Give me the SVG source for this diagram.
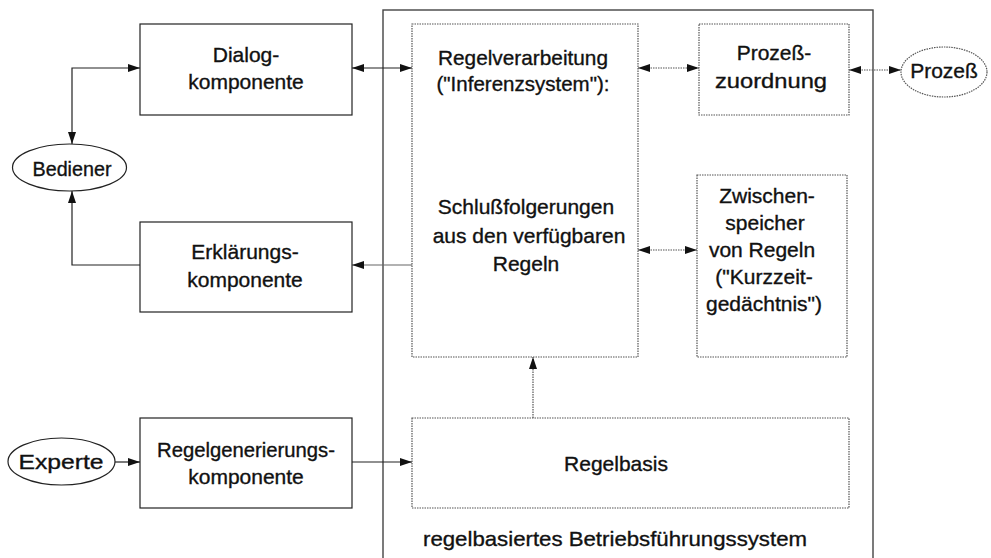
<svg xmlns="http://www.w3.org/2000/svg" width="991" height="558" viewBox="0 0 991 558">
<style>
text{font-family:"Liberation Sans",Arial,sans-serif;font-size:21px;fill:#111;stroke:#111;stroke-width:0.35;text-anchor:middle}
.solid{fill:#fff;stroke:#222;stroke-width:1.2}
.dot{fill:#fff;stroke:#555;stroke-width:1.2;stroke-dasharray:1.5 1}
.outer{fill:none;stroke:#444;stroke-width:1.4}
.c{fill:none;stroke:#222;stroke-width:1.2}
.cg{fill:none;stroke:#666;stroke-width:1.2}
.cd{fill:none;stroke:#555;stroke-width:1.2;stroke-dasharray:1.5 1}
</style>
<defs>
<marker id="ah" viewBox="0 0 12 8" refX="12" refY="4" markerWidth="12" markerHeight="8" markerUnits="userSpaceOnUse" orient="auto-start-reverse">
<path d="M0,0 L12,4 L0,8 Z" fill="#111"/>
</marker>
</defs>
<rect class="outer" x="383" y="10" width="490" height="570"/>
<g id="connectors">
<path class="c" d="M140,68 H72 V144" marker-start="url(#ah)" marker-end="url(#ah)"/>
<path class="c" d="M140,265 H72 V191" marker-end="url(#ah)"/>
<path class="cg" d="M412,265 H352" marker-end="url(#ah)"/>
<path class="c" d="M352,68 H412" marker-start="url(#ah)" marker-end="url(#ah)"/>
<path class="cd" d="M638,68 H699" marker-start="url(#ah)" marker-end="url(#ah)"/>
<path class="cd" d="M849,70 H901" marker-start="url(#ah)" marker-end="url(#ah)"/>
<path class="cd" d="M638,250 H697" marker-start="url(#ah)" marker-end="url(#ah)"/>
<path class="cd" d="M533,418 V357" marker-end="url(#ah)"/>
<path class="c" d="M115,462 H140" marker-end="url(#ah)"/>
<path class="c" d="M352,462 H412" marker-end="url(#ah)"/>
</g>
<g id="dialog">
<rect class="solid" x="140" y="24" width="212" height="91"/>
<text x="246" y="62">Dialog-</text>
<text x="246" y="89">komponente</text>
</g>
<g id="erklaerung">
<rect class="solid" x="140" y="222" width="212" height="90"/>
<text x="245" y="259">Erklärungs-</text>
<text x="245" y="287">komponente</text>
</g>
<g id="regelgen">
<rect class="solid" x="140" y="418" width="212" height="90"/>
<text x="246" y="457" textLength="178" lengthAdjust="spacingAndGlyphs">Regelgenerierungs-</text>
<text x="246" y="484">komponente</text>
</g>
<g id="bediener">
<ellipse class="solid" cx="69.5" cy="167.5" rx="57" ry="23.5"/>
<text x="72" y="176" textLength="79" lengthAdjust="spacingAndGlyphs">Bediener</text>
</g>
<g id="experte">
<ellipse class="solid" cx="61.5" cy="461.5" rx="53.5" ry="23.5"/>
<text x="61" y="469" font-size="23" textLength="85" lengthAdjust="spacingAndGlyphs">Experte</text>
</g>
<g id="regelverarbeitung">
<rect class="dot" x="412" y="24" width="226" height="333"/>
<text x="523" y="65" textLength="170" lengthAdjust="spacingAndGlyphs">Regelverarbeitung</text>
<text x="523" y="91" textLength="173" lengthAdjust="spacingAndGlyphs">("Inferenzsystem"):</text>
<text x="526" y="214">Schlußfolgerungen</text>
<text x="529" y="243">aus den verfügbaren</text>
<text x="526" y="271">Regeln</text>
</g>
<g id="prozesszuordnung">
<rect class="dot" x="699" y="24" width="150" height="91"/>
<text x="774" y="60">Prozeß-</text>
<text x="771" y="88" font-size="24" textLength="112" lengthAdjust="spacingAndGlyphs">zuordnung</text>
</g>
<g id="zwischenspeicher">
<rect class="dot" x="697" y="175" width="150" height="182"/>
<text x="767" y="203">Zwischen-</text>
<text x="765" y="230">speicher</text>
<text x="762" y="257">von Regeln</text>
<text x="764" y="284">("Kurzzeit-</text>
<text x="764" y="311">gedächtnis")</text>
</g>
<g id="prozess">
<ellipse class="dot" cx="944" cy="72" rx="43" ry="25"/>
<text x="944" y="78">Prozeß</text>
</g>
<g id="regelbasis">
<rect class="dot" x="412" y="418" width="437" height="90"/>
<text x="616" y="471">Regelbasis</text>
</g>
<text x="615" y="546" font-size="22" textLength="384" lengthAdjust="spacingAndGlyphs">regelbasiertes Betriebsführungssystem</text>
</svg>
